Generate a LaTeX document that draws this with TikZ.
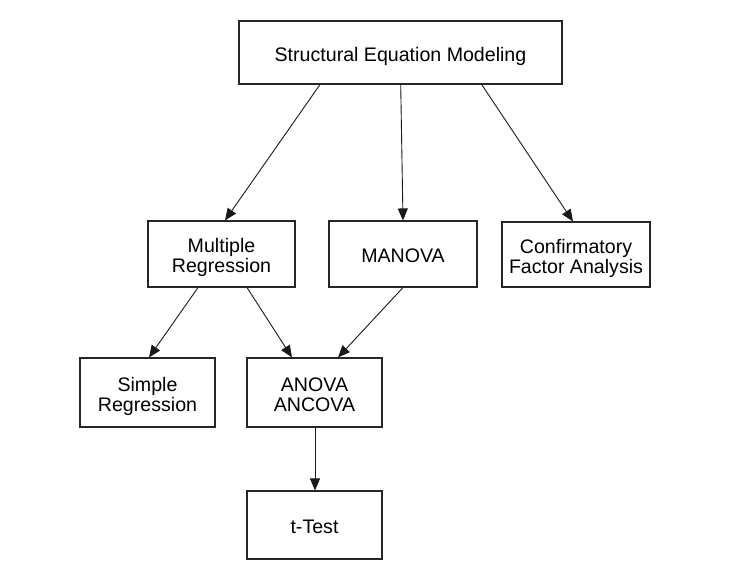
\documentclass[tikz,border=0pt]{standalone}
\usepackage{fontspec}
\setmainfont{Liberation Sans}
\usetikzlibrary{arrows.meta}
\newcommand{\boxtext}[1]{\raisebox{-4.5bp}[\height][\depth]{\begin{tabular}{@{}c@{}}#1\end{tabular}}}
\begin{document}
\begin{tikzpicture}[x=1bp,y=-1bp,
  box/.style={draw=black!85,line width=1.1bp,fill=white,inner sep=0pt,
    font=\fontsize{19.6bp}{20bp}\selectfont},
  arr/.style={draw=black!90,line width=0.9bp,-{Triangle[length=12bp,width=10bp]}}]
\useasboundingbox (0,0) rectangle (741,572);
\node[box,minimum width=323bp,minimum height=63bp] (sem) at (400.5,52.5) {\boxtext{Structural Equation Modeling}};
\node[box,minimum width=147bp,minimum height=66bp] (mr) at (221.5,254) {\boxtext{Multiple\\Regression}};
\node[box,minimum width=148bp,minimum height=66bp] (man) at (403,254) {\boxtext{MANOVA}};
\node[box,minimum width=148bp,minimum height=65bp] (cfa) at (576,254.5) {\boxtext{Confirmatory\\Factor Analysis}};
\node[box,minimum width=135bp,minimum height=69bp] (sr) at (147.5,392.5) {\boxtext{Simple\\Regression}};
\node[box,minimum width=135bp,minimum height=69bp] (an) at (314.5,392.5) {\boxtext{ANOVA\\ANCOVA}};
\node[box,minimum width=135bp,minimum height=68bp] (tt) at (314.5,525) {\boxtext{t-Test}};
\draw[arr] (sem.south -| 320,0) -- (mr.north -| 225,0);
\draw[arr] (sem.south -| 400.7,0) -- (man.north -| 403,0);
\draw[arr] (sem.south -| 481.7,0) -- (cfa.north -| 573,0);
\draw[arr] (mr.south -| 198,0) -- (sr.north -| 149,0);
\draw[arr] (mr.south -| 247,0) -- (an.north -| 292,0);
\draw[arr] (man.south -| 403,0) -- (an.north -| 338,0);
\draw[arr] (an.south -| 315,0) -- (tt.north -| 315,0);
\end{tikzpicture}
\end{document}
